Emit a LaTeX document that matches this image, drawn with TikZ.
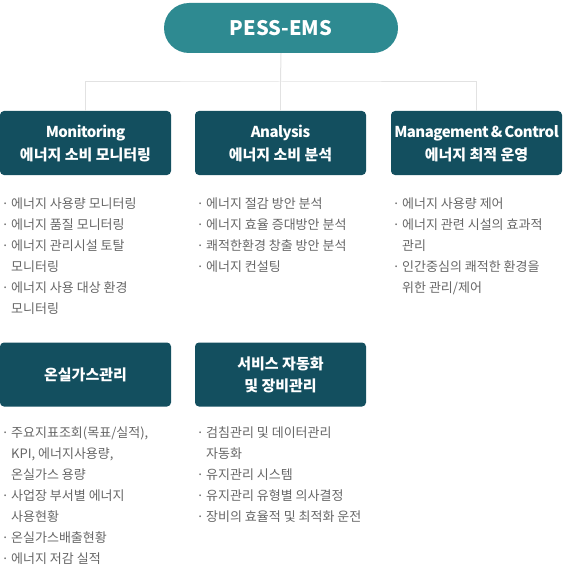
\documentclass[tikz,border=0pt]{standalone}
\usepackage{fontspec}
\newfontfamily\kr{Noto Sans CJK KR}
\newfontfamily\krt{Noto Sans CJK KR}[LetterSpace=-3.5]
\definecolor{pill}{HTML}{2E8A91}
\definecolor{boxc}{HTML}{134F5F}
\definecolor{conn}{HTML}{E2E2E2}
\definecolor{txt}{HTML}{666666}
\newcommand\bul{\makebox[9.5pt][l]{·}}
\newcommand\cont{\hspace*{9.5pt}}
\newcommand\topstrut{\rule{0pt}{17pt}}
\newcommand\botstrut{\rule[-5pt]{0pt}{5pt}}
\newcommand\lat[1]{{\krt\bfseries #1}}
\tikzset{
  head/.style={rectangle, rounded corners=4pt, fill=boxc, minimum width=171pt, minimum height=64pt, inner sep=0pt, text=white, align=center, font={\kr\bfseries\fontsize{15}{22}\selectfont}},
  rootbox/.style={rectangle, rounded corners=25pt, fill=pill, minimum width=234pt, minimum height=50pt, inner sep=0pt, text=white, font={\kr\bfseries\fontsize{20}{24}\selectfont}},
  itemtxt/.style={inner sep=0pt, anchor=base west, text=txt, font={\kr\fontsize{13}{21}\selectfont}},
  link/.style={draw=conn, line width=1pt}
}
\newcommand\itemlines[4]{%
  \foreach \t [count=\i from 0] in {#3} {
    \node[itemtxt] (#4-\i) at (#1, {-(#2+21*\i)}) {\t};
  }}
\begin{document}
\begin{tikzpicture}[x=1pt,y=1pt]
\useasboundingbox (0,0) rectangle (562,-567);
\node[rootbox] (root) at (281,-28) {PESS-EMS};
\node[head] (mon) at (85.5,-143) {\topstrut\lat{Monitoring}\\에너지 소비 모니터링\botstrut};
\node[head] (ana) at (280.5,-143) {\topstrut\lat{Analysis}\\에너지 소비 분석\botstrut};
\node[head] (man) at (476.5,-143) {\topstrut\lat{Management\kern2pt\&\kern2pt Control}\\에너지 최적 운영\botstrut};
\node[head] (ghg) at (85.5,-374.5) {\topstrut 온실가스관리\botstrut};
\node[head] (svc) at (280.5,-374.5) {\topstrut 서비스 자동화\\및 장비관리\botstrut};
\coordinate (hub) at (280.5,-82);
\draw[link] (root.south) -- (hub);
\draw[link] (hub) -- (ana.north);
\draw[link] (mon.north) |- (hub) -| (man.north);
\itemlines{1.5}{208}{{\bul 에너지 사용량 모니터링},{\bul 에너지 품질 모니터링},{\bul 에너지 관리시설 토탈},{\cont 모니터링},{\bul 에너지 사용 대상 환경},{\cont 모니터링}}{a}
\itemlines{196.5}{208}{{\bul 에너지 절감 방안 분석},{\bul 에너지 효율 증대방안 분석},{\bul 쾌적한환경 창출 방안 분석},{\bul 에너지 컨설팅}}{b}
\itemlines{392.5}{208}{{\bul 에너지 사용량 제어},{\bul 에너지 관련 시설의 효과적},{\cont 관리},{\bul 인간중심의 쾌적한 환경을},{\cont 위한 관리/제어}}{c}
\itemlines{1.5}{437}{{\bul 주요지표조회(목표/실적),},{\cont KPI, 에너지사용량,},{\cont 온실가스 용량},{\bul 사업장 부서별 에너지},{\cont 사용현황},{\bul 온실가스배출현황},{\bul 에너지 저감 실적}}{d}
\itemlines{196.5}{437}{{\bul 검침관리 및 데이터관리},{\cont 자동화},{\bul 유지관리 시스템},{\bul 유지관리 유형별 의사결정},{\bul 장비의 효율적 및 최적화 운전}}{e}
\end{tikzpicture}
\end{document}
